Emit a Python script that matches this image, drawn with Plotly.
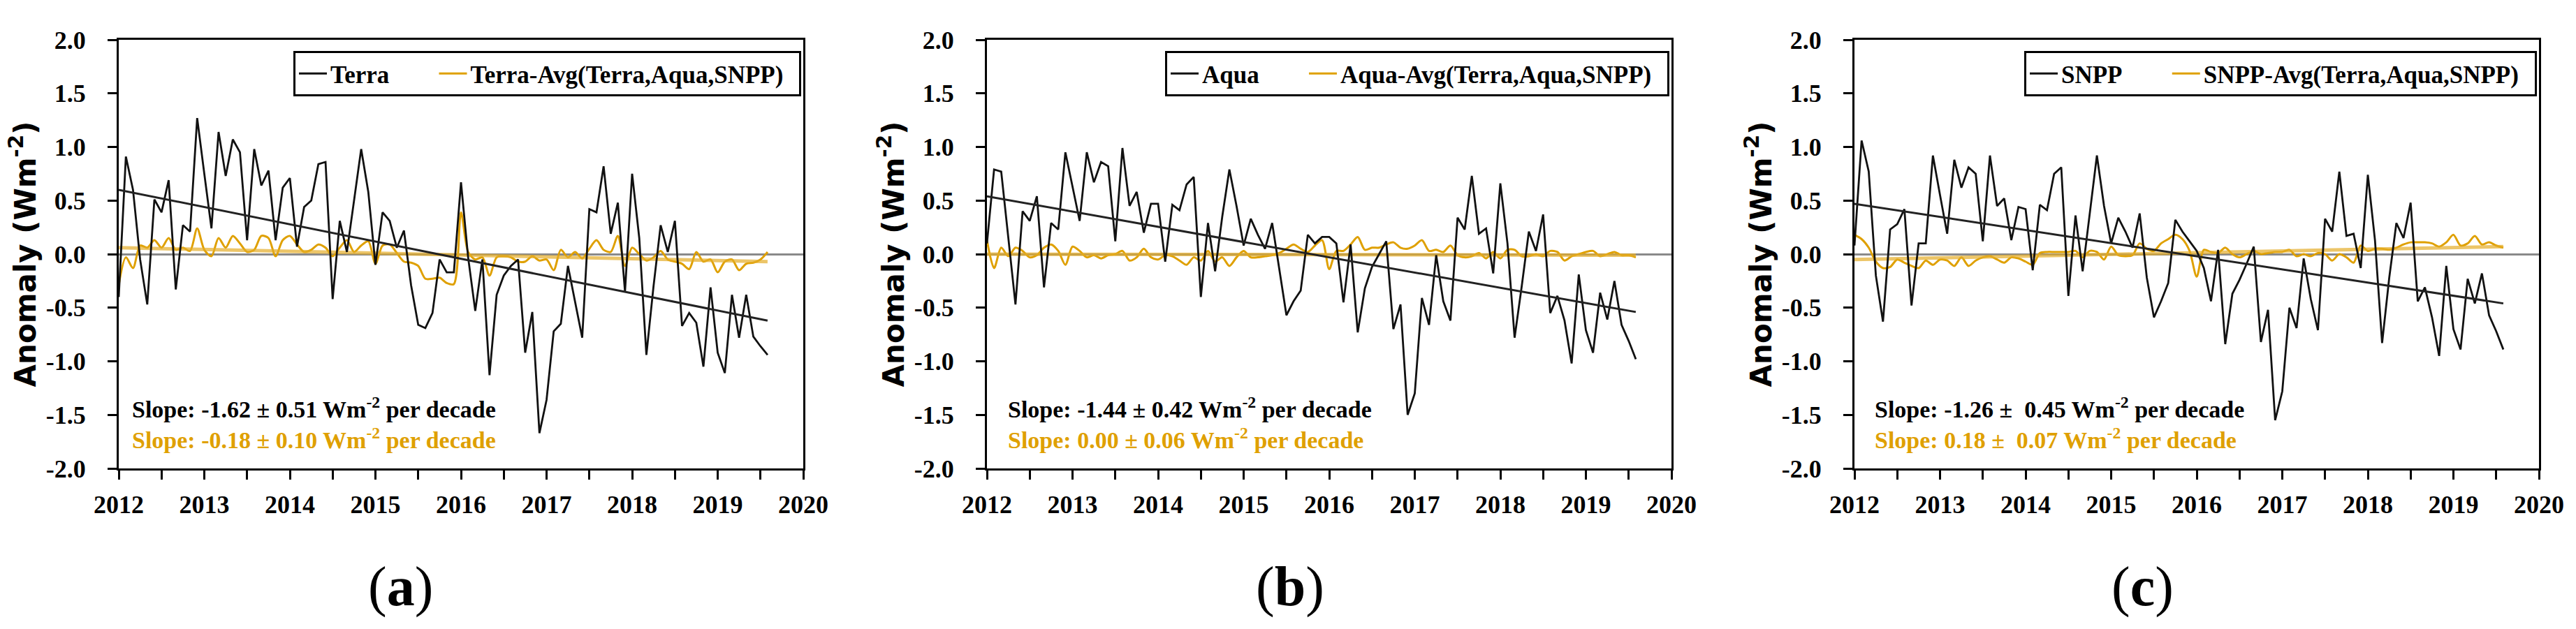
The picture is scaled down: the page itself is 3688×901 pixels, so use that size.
import plotly.graph_objects as go

# ---------------- data ----------------
N_MONTHS = 92            # Jan 2012 .. Aug 2019, monthly
START_YEAR = 2012

terra = [-0.40, 0.91, 0.60, -0.05, -0.47, 0.51, 0.39, 0.69, -0.33, 0.27, 0.21, 1.27,
         0.75, 0.24, 1.14, 0.73, 1.07, 0.95, 0.13, 0.98, 0.64, 0.78, 0.13, 0.62,
         0.71, 0.07, 0.44, 0.50, 0.84, 0.86, -0.42, 0.31, 0.02, 0.50, 0.98, 0.58,
         -0.10, 0.39, 0.31, 0.06, 0.22, -0.29, -0.66, -0.69, -0.55, -0.05, -0.17, -0.17,
         0.67, -0.03, -0.53, -0.05, -1.13, -0.38, -0.20, -0.11, -0.05, -0.92, -0.54, -1.67,
         -1.36, -0.72, -0.65, -0.11, -0.45, -0.78, 0.42, 0.39, 0.82, 0.19, 0.48, -0.35,
         0.75, 0.15, -0.94, -0.30, 0.27, 0.02, 0.31, -0.67, -0.55, -0.64, -1.05, -0.31,
         -0.92, -1.11, -0.38, -0.78, -0.38, -0.77, -0.86, -0.94]
terra_diff = [-0.29, -0.03, -0.13, 0.08, 0.06, 0.13, 0.06, 0.15, 0.04, 0.06, 0.03, 0.24,
              0.04, -0.02, 0.15, 0.06, 0.17, 0.10, 0.02, 0.04, 0.17, 0.15, -0.02, 0.13,
              0.17, 0.09, 0.02, 0.04, 0.09, 0.06, -0.02, 0.06, 0.13, 0.02, 0.08, 0.12,
              -0.09, 0.08, 0.09, 0.01, -0.07, -0.08, -0.11, -0.23, -0.23, -0.22, -0.27, -0.28,
              0.39, 0.02, -0.05, -0.03, -0.20, -0.03, -0.02, -0.03, -0.07, -0.07, -0.02, -0.06,
              -0.05, -0.15, 0.04, -0.03, 0.02, -0.04, 0.05, 0.13, 0.04, 0.02, 0.17, -0.11,
              0.06, 0.00, -0.06, -0.03, 0.03, -0.05, -0.07, -0.09, -0.14, 0.02, -0.07, -0.05,
              -0.17, -0.07, -0.05, -0.15, -0.09, -0.08, -0.05, 0.02]

aqua = [0.10, 0.79, 0.77, 0.15, -0.47, 0.40, 0.31, 0.54, -0.31, 0.29, 0.23, 0.95,
        0.62, 0.31, 0.95, 0.67, 0.86, 0.82, 0.12, 0.99, 0.45, 0.58, 0.20, 0.47,
        0.47, -0.07, 0.46, 0.41, 0.65, 0.72, -0.40, 0.29, -0.16, 0.35, 0.79, 0.45,
        0.08, 0.33, 0.18, 0.05, 0.29, -0.15, -0.57, -0.44, -0.34, 0.18, 0.10, 0.16,
        0.16, 0.10, -0.45, 0.09, -0.73, -0.32, -0.12, 0.00, 0.12, -0.70, -0.47, -1.50,
        -1.30, -0.41, -0.66, -0.01, -0.44, -0.62, 0.34, 0.23, 0.73, 0.19, 0.24, -0.18,
        0.66, 0.10, -0.78, -0.30, 0.21, 0.03, 0.37, -0.55, -0.39, -0.62, -1.02, -0.19,
        -0.71, -0.92, -0.36, -0.61, -0.25, -0.66, -0.81, -0.98]
aqua_diff = [0.13, -0.13, 0.06, -0.02, 0.06, 0.03, -0.03, -0.01, 0.06, 0.09, 0.03, -0.10,
             0.07, 0.03, -0.03, -0.01, -0.04, -0.01, 0.00, 0.03, -0.06, -0.03, 0.05, -0.03,
             -0.05, -0.01, -0.02, -0.06, -0.10, -0.03, -0.06, 0.03, -0.07, -0.03, -0.11, -0.03,
             0.03, -0.03, -0.03, -0.02, -0.01, 0.01, 0.05, 0.09, 0.05, 0.02, 0.08, 0.13,
             -0.14, 0.03, 0.03, 0.09, 0.16, 0.04, 0.06, 0.06, 0.09, 0.11, 0.06, 0.05,
             0.08, 0.13, 0.03, 0.04, 0.02, 0.08, -0.01, -0.03, -0.02, 0.01, -0.04, 0.02,
             -0.04, 0.04, 0.04, -0.02, -0.02, 0.00, -0.02, 0.03, 0.02, -0.06, -0.02, 0.00,
             0.02, 0.03, -0.02, 0.00, 0.02, -0.01, -0.01, -0.03]

snpp = [0.08, 1.06, 0.77, -0.20, -0.63, 0.23, 0.28, 0.42, -0.48, 0.10, 0.10, 0.92,
        0.55, 0.19, 0.88, 0.62, 0.81, 0.75, 0.12, 0.92, 0.45, 0.52, 0.13, 0.44,
        0.42, -0.15, 0.46, 0.41, 0.75, 0.81, -0.39, 0.36, -0.16, 0.38, 0.92, 0.45,
        0.10, 0.34, 0.21, 0.06, 0.38, -0.22, -0.59, -0.44, -0.27, 0.32, 0.21, 0.12,
        0.03, -0.13, -0.44, 0.04, -0.84, -0.37, -0.24, -0.09, 0.07, -0.82, -0.52, -1.55,
        -1.28, -0.50, -0.69, -0.04, -0.42, -0.71, 0.33, 0.21, 0.77, 0.17, 0.19, -0.13,
        0.74, 0.13, -0.83, -0.22, 0.29, 0.15, 0.48, -0.44, -0.31, -0.59, -0.95, -0.11,
        -0.70, -0.89, -0.23, -0.46, -0.18, -0.57, -0.72, -0.89]
snpp_diff = [0.18, 0.14, 0.06, -0.07, -0.13, -0.12, -0.05, -0.08, -0.11, -0.13, -0.06, -0.10,
             -0.05, -0.06, -0.11, -0.03, -0.11, -0.06, -0.03, -0.02, -0.05, -0.08, -0.03, -0.04,
             -0.07, -0.10, 0.01, 0.02, 0.02, 0.02, 0.02, 0.03, -0.03, 0.03, 0.02, -0.05,
             0.07, -0.01, -0.02, -0.01, 0.10, 0.05, 0.03, 0.10, 0.14, 0.18, 0.14, 0.03,
             -0.21, 0.04, 0.02, 0.01, 0.06, 0.00, -0.03, 0.00, 0.03, 0.00, 0.01, 0.02,
             0.02, 0.04, -0.02, 0.00, -0.02, 0.01, 0.00, -0.06, 0.00, -0.03, -0.08, 0.08,
             0.03, 0.05, 0.05, 0.04, 0.06, 0.09, 0.11, 0.11, 0.11, 0.10, 0.07, 0.11,
             0.18, 0.08, 0.10, 0.17, 0.09, 0.11, 0.08, 0.06]

# linear-trend end points (start of 2012, last month)
trend_x = [2012.0, 2019.583]
terra_trend = [0.60, -0.62]
terra_diff_trend = [0.06, -0.07]
aqua_trend = [0.54, -0.54]
aqua_diff_trend = [0.00, -0.01]
snpp_trend = [0.47, -0.46]
snpp_diff_trend = [-0.05, 0.07]

names = ["Terra", "Aqua", "SNPP"]
slope_black = ["Slope: -1.62 ± 0.51 Wm<sup>-2</sup> per decade",
               "Slope: -1.44 ± 0.42 Wm<sup>-2</sup> per decade",
               "Slope: -1.26 ±  0.45 Wm<sup>-2</sup> per decade"]
slope_orange = ["Slope: -0.18 ± 0.10 Wm<sup>-2</sup> per decade",
                "Slope: 0.00 ± 0.06 Wm<sup>-2</sup> per decade",
                "Slope: 0.18 ±  0.07 Wm<sup>-2</sup> per decade"]
panel_labels = ["a", "b", "c"]

x_tickvals = [2012, 2013, 2014, 2015, 2016, 2017, 2018, 2019, 2020]
x_ticktext = ["2012", "2013", "2014", "2015", "2016", "2017", "2018", "2019", "2020"]
y_tickvals = [-2.0, -1.5, -1.0, -0.5, 0.0, 0.5, 1.0, 1.5, 2.0]
y_ticktext = ["-2.0", "-1.5", "-1.0", "-0.5", "0.0", "0.5", "1.0", "1.5", "2.0"]

# ---------------- styling ----------------
W, H = 3688, 901
BLACK = "#111111"
ORANGE = "#DFA000"
ORANGE_TREND = "rgba(228,172,40,0.7)"
SERIF = "Liberation Serif"
SANS = "DejaVu Sans"
NB = "\u00a0"

years = [START_YEAR + i / 12 for i in range(N_MONTHS)]
series = [(terra, terra_diff, terra_trend, terra_diff_trend),
          (aqua, aqua_diff, aqua_trend, aqua_diff_trend),
          (snpp, snpp_diff, snpp_trend, snpp_diff_trend)]

x_px = [(170, 1150), (1413, 2393), (2655, 3635)]
y_px = (57, 671)
text_left = [187, 1441, 2682]
label_x = [573, 1847, 3067]


def fx(p):
    return p / W


def fy(p):
    return 1 - p / H


fig = go.Figure()
layout = dict(
    template="none",
    width=W, height=H, margin=dict(l=0, r=0, t=0, b=0, pad=0), autosize=False,
    paper_bgcolor="white", plot_bgcolor="white", showlegend=True,
)
annotations = []

for k in range(3):
    blk, org, blk_tr, org_tr = series[k]
    sfx = "" if k == 0 else str(k + 1)
    xa, ya, lg = "x" + sfx, "y" + sfx, "legend" + sfx

    fig.add_trace(go.Scatter(x=years, y=org, mode="lines",
                             name=f"{names[k]}-Avg(Terra,Aqua,SNPP){NB}{NB}",
                             line=dict(color=ORANGE, width=3, shape="spline", smoothing=0.8),
                             xaxis=xa, yaxis=ya, legend=lg, legendrank=2))
    fig.add_trace(go.Scatter(x=trend_x, y=org_tr, mode="lines", showlegend=False,
                             line=dict(color=ORANGE_TREND, width=5),
                             xaxis=xa, yaxis=ya, hoverinfo="skip"))
    fig.add_trace(go.Scatter(x=years, y=blk, mode="lines", name=names[k] + NB * 7,
                             line=dict(color=BLACK, width=2.8),
                             xaxis=xa, yaxis=ya, legend=lg, legendrank=1))
    fig.add_trace(go.Scatter(x=trend_x, y=blk_tr, mode="lines", showlegend=False,
                             line=dict(color="#222222", width=3),
                             xaxis=xa, yaxis=ya, hoverinfo="skip"))

    x0, x1 = x_px[k]
    layout["xaxis" + sfx] = dict(
        domain=[fx(x0), fx(x1)], anchor=ya, range=[2012, 2020], automargin=False,
        tickvals=x_tickvals, ticktext=x_ticktext,
        ticks="outside", ticklen=13, tickwidth=3, tickcolor="black",
        minor=dict(dtick=0.5, tick0=2012, ticks="outside", ticklen=13, tickwidth=3,
                   tickcolor="black", showgrid=False),
        showline=True, linewidth=3, linecolor="black", mirror=True,
        showgrid=False, zeroline=False, ticklabelstandoff=5,
        tickfont=dict(family=SERIF, size=36, color="black", weight="bold"),
    )
    layout["yaxis" + sfx] = dict(
        domain=[fy(y_px[1]), fy(y_px[0])], anchor=xa, range=[-2, 2], automargin=False,
        tickvals=y_tickvals, ticktext=y_ticktext,
        ticks="outside", ticklen=13, tickwidth=3, tickcolor="black",
        showline=True, linewidth=3, linecolor="black", mirror=True,
        showgrid=False, zeroline=True, zerolinecolor="#8a8a8a", zerolinewidth=3,
        ticklabelstandoff=24,
        tickfont=dict(family=SERIF, size=36, color="black", weight="bold"),
        title=dict(text="Anomaly (Wm<sup>-2</sup>)", standoff=2,
                   font=dict(family=SANS, size=42, color="black", weight="bold")),
    )
    layout[lg] = dict(
        orientation="h", x=fx(x1 - 3), xanchor="right", y=fy(73), yanchor="top",
        bgcolor="white", bordercolor="black", borderwidth=3,
        font=dict(family=SERIF, size=35, color="black", weight="bold"),
        itemwidth=40, tracegroupgap=0,
    )
    annotations.append(dict(text=slope_black[k], xref="paper", yref="paper",
                            x=fx(text_left[k]), y=fy(584), xanchor="left", yanchor="middle",
                            showarrow=False,
                            font=dict(family=SERIF, size=34, color="black", weight="bold")))
    annotations.append(dict(text=slope_orange[k], xref="paper", yref="paper",
                            x=fx(text_left[k]), y=fy(628), xanchor="left", yanchor="middle",
                            showarrow=False,
                            font=dict(family=SERIF, size=34, color=ORANGE, weight="bold")))
    annotations.append(dict(text=f"(<b>{panel_labels[k]}</b>)", xref="paper", yref="paper",
                            x=fx(label_x[k]), y=fy(840), xanchor="center", yanchor="middle",
                            showarrow=False,
                            font=dict(family=SERIF, size=80, color="black")))

layout["annotations"] = annotations
fig.update_layout(**layout)
fig.write_html("out.html")
